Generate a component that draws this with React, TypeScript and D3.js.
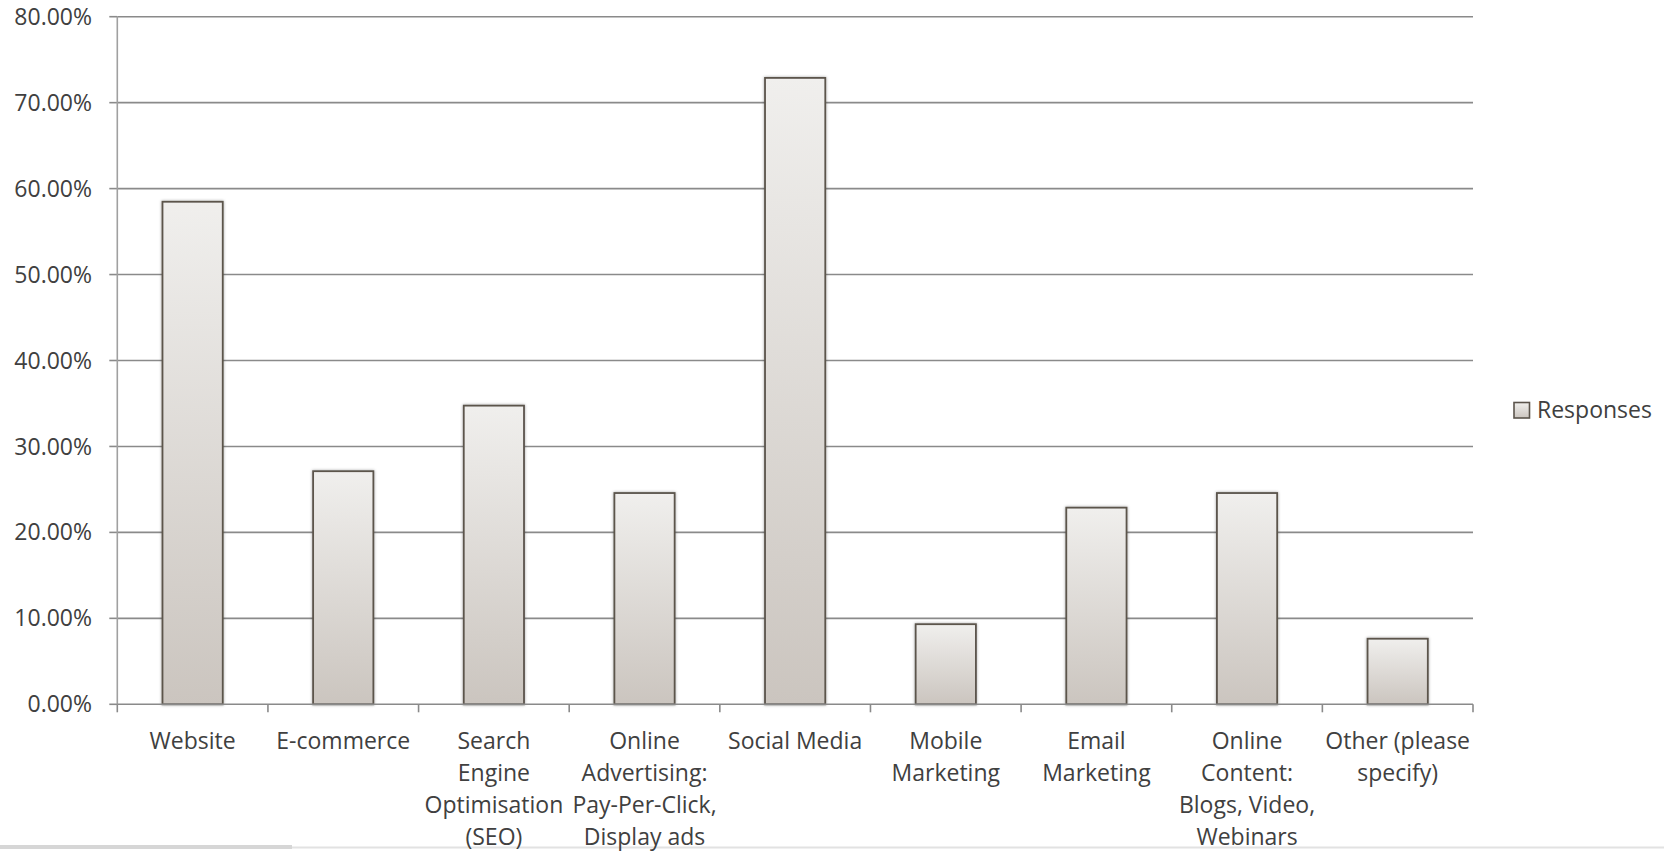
import React from "react";
import * as d3 from "d3";

const categories: string[] = [
  "Website",
  "E-commerce",
  "Search\nEngine\nOptimisation\n(SEO)",
  "Online\nAdvertising:\nPay-Per-Click,\nDisplay ads",
  "Social Media",
  "Mobile\nMarketing",
  "Email\nMarketing",
  "Online\nContent:\nBlogs, Video,\nWebinars",
  "Other (please\nspecify)",
];
const responses: number[] = [58.47, 27.12, 34.75, 24.58, 72.88, 9.32, 22.88, 24.58, 7.63];
const yTicks: number[] = [0, 10, 20, 30, 40, 50, 60, 70, 80];
const seriesName = "Responses";

const W = 1664;
const H = 851;
const M = { left: 117.3, right: 1473, top: 16.7, bottom: 704.3 };
const FONT = "'Open Sans', 'DejaVu Sans', sans-serif";
const TEXT = "#404040";

export default function App() {
  const x = d3
    .scaleBand<number>()
    .domain(d3.range(categories.length))
    .range([M.left, M.right])
    .paddingInner(0.6)
    .paddingOuter(0.3);
  const band = (M.right - M.left) / categories.length;
  const y = d3.scaleLinear().domain([0, 80]).range([M.bottom, M.top]);

  return (
    <svg
      width={W}
      height={H}
      viewBox={`0 0 ${W} ${H}`}
      style={{ position: "absolute", left: 0, top: 0, background: "#fff" }}
    >
      <defs>
        <linearGradient id="barGrad" x1="0" y1="0" x2="0" y2="1">
          <stop offset="0" stopColor="#f0efed" />
          <stop offset="1" stopColor="#cbc5bf" />
        </linearGradient>
        <filter id="shadow" x="-20%" y="-5%" width="140%" height="110%">
          <feDropShadow dx="0" dy="0" stdDeviation="1.8" floodColor="#000" floodOpacity="0.35" />
        </filter>
      </defs>

      {/* gridlines */}
      {yTicks.map((t) => (
        <g key={"g" + t}>
          {t > 0 && (
            <line x1={M.left} x2={M.right} y1={y(t)} y2={y(t)} stroke="#8a8a8a" strokeWidth={1.6} />
          )}
          <line x1={M.left - 8} x2={M.left} y1={y(t)} y2={y(t)} stroke="#8a8a8a" strokeWidth={1.6} />
          <text
            x={92}
            y={y(t)}
            dy="0.35em"
            textAnchor="end"
            fontFamily={FONT}
            fontSize={23}
            fill={TEXT}
          >
            {t.toFixed(2) + "%"}
          </text>
        </g>
      ))}

      {/* y axis */}
      <line x1={M.left} x2={M.left} y1={M.top} y2={M.bottom} stroke="#a0a0a0" strokeWidth={1.6} />

      {/* bars */}
      {responses.map((v, i) => (
        <rect
          key={"b" + i}
          x={x(i)!}
          y={y(v)}
          width={x.bandwidth()}
          height={y(0) - y(v)}
          fill="url(#barGrad)"
          stroke="#5b544c"
          strokeWidth={1.8}
          filter="url(#shadow)"
        />
      ))}

      {/* x axis */}
      <line x1={M.left} x2={M.right} y1={M.bottom} y2={M.bottom} stroke="#8a8a8a" strokeWidth={1.6} />
      {d3.range(categories.length + 1).map((i) => (
        <line
          key={"xt" + i}
          x1={M.left + i * band}
          x2={M.left + i * band}
          y1={M.bottom}
          y2={M.bottom + 8}
          stroke="#8a8a8a"
          strokeWidth={1.6}
        />
      ))}

      {/* bottom border */}
      <rect x={0} y={845} width={292} height={4} fill="#d6d6d6" />
      <line x1={292} x2={W} y1={847.5} y2={847.5} stroke="#e2e2e2" strokeWidth={2} />

      {/* category labels */}
      {categories.map((c, i) => (
        <text
          key={"c" + i}
          x={x(i)! + x.bandwidth() / 2}
          y={749}
          textAnchor="middle"
          fontFamily={FONT}
          fontSize={23}
          fill={TEXT}
        >
          {c.split("\n").map((line, j) => (
            <tspan key={j} x={x(i)! + x.bandwidth() / 2} y={749 + j * 32}>
              {line}
            </tspan>
          ))}
        </text>
      ))}

      {/* legend */}
      <rect x={1514} y={402.5} width={15.5} height={15.5} fill="url(#barGrad)" stroke="#5b544c" strokeWidth={1.6} />
      <text x={1537} y={410} dy="0.35em" fontFamily={FONT} fontSize={23} fill={TEXT}>
        {seriesName}
      </text>
    </svg>
  );
}
